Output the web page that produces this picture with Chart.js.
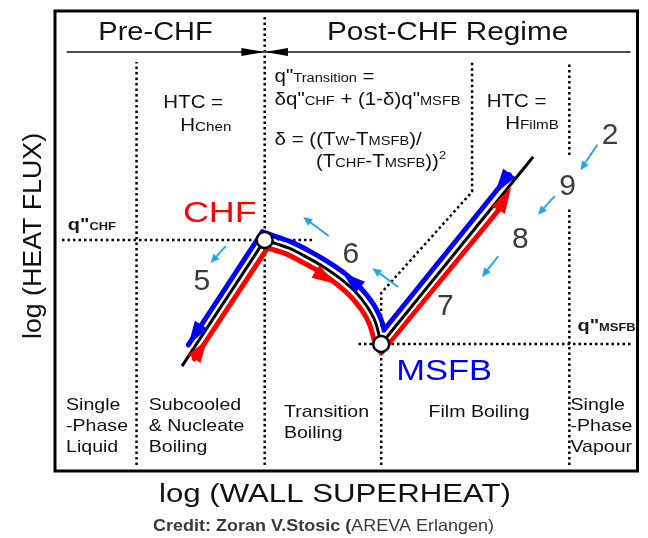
<!DOCTYPE html>
<html>
<head>
<meta charset="utf-8">
<script src="https://cdn.jsdelivr.net/npm/chart.js@4.4.1/dist/chart.umd.min.js"></script>
<style>
  html, body { margin: 0; padding: 0; background: #fff; }
  #wrap { width: 648px; height: 538px; }
</style>
</head>
<body>
<div id="wrap"><canvas id="c" width="648" height="538"></canvas></div>
<script>
// Boiling curve: log wall superheat (x) against log heat flux (y), both on a 0-100 scale
const boilX = [21.8, 36.0, 40.1, 43.2, 46.2, 49.1, 51.6, 53.6, 55.0, 56.0, 82.1];
const boilY = [22.8, 50.2, 48.5, 46.5, 44.3, 41.7, 38.9, 35.7, 32.4, 27.6, 68.3];
const CHF_I = 1, MSFB_I = 9;

// Heating path (red) and cooling path (blue) running beside the curve
const heatX = [23.9, 36.5, 39.7, 42.6, 45.6, 48.4, 50.8, 52.7, 54.0, 55.0, 56.0, 76.2];
const heatY = [24.4, 48.5, 47.2, 45.3, 43.2, 40.6, 37.9, 34.9, 31.9, 27.8, 25.7, 56.8];
const coolX = [22.9, 35.6, 40.5, 43.7, 46.8, 49.8, 52.4, 54.6, 56.0, 56.5, 78.0];
const coolY = [27.4, 52.0, 49.8, 47.8, 45.5, 42.9, 39.9, 36.4, 32.9, 30.7, 64.4];

// Arrowheads on the paths: [baseX, baseY, tipX, tipY]
const heatArrows = [[23.9, 24.4, 26.1, 28.5], [44.7, 43.4, 48.1, 40.7], [76.1, 56.7, 78.3, 61.7]];
const coolArrows = [[78.0, 64.8, 75.5, 60.2], [52.4, 39.9, 49.4, 43.1], [25.1, 31.8, 22.9, 27.4]];

// Small pointer arrows next to the step numbers: [fromX, fromY, toX, toY]
const pointerArrows = [
  [93.1, 70.9, 90.2, 65.4],
  [85.8, 59.8, 82.9, 55.7],
  [76.1, 46.7, 73.3, 42.2],
  [58.9, 40.0, 54.5, 44.1],
  [47.0, 51.1, 42.6, 55.2],
  [29.3, 48.9, 26.7, 45.2]
];

// Step numbers and where they sit
const stepLabels = ['2', '9', '8', '7', '6', '5'];
const stepX = [95.3, 88.0, 79.9, 67.0, 50.8, 25.2];
const stepY = [73.5, 62.4, 50.9, 36.3, 47.6, 41.7];

// Regime boundaries (dotted)
const regionX = [14.0, 36.0, 56.0, 88.3];
const filmBoundX = [56.0, 56.0, 71.6, 71.6];
const filmBoundY = [1.3, 38.7, 60.7, 88.9];
const chfFluxX = [1.2, 44.5];
const msfbFluxX = [52.1, 99.3];

// Pre-/Post-CHF header divider
const headerY = 91.1;
const headerX = [2.0, 98.8];
const headerArrows = [[32.0, 91.1, 36.0, 91.1], [40.0, 91.1, 36.0, 91.1]];

// Regime names along the bottom
const regimeNames = [
  ['Single', '-Phase', 'Liquid'],
  ['Subcooled', '& Nucleate', 'Boiling'],
  ['Transition', 'Boiling'],
  ['Film Boiling'],
  ['Single', '-Phase', 'Vapour']
];
const regimeX = [1.9, 16.1, 39.3, 72.8, 88.5];
const regimeTopY = [13.3, 13.3, 11.7, 11.7, 13.3];
const regimeAlign = ['left', 'left', 'left', 'center', 'left'];

const FONT = '"Liberation Sans", Arial, Helvetica, sans-serif';
const RED = '#ff0000', BLUE = '#0000ff', SKY = '#1ea6e6';
const CURVE_TENSION = 0.25;

function pts(xs, ys, from, to) {
  const out = [];
  for (let i = from; i <= to; i++) out.push({ x: xs[i], y: ys[i] });
  return out;
}
function path(data, color, width, order, extra) {
  return Object.assign({
    data, showLine: true, borderColor: color, backgroundColor: color,
    borderWidth: width, pointRadius: 0, pointHoverRadius: 0, fill: false,
    tension: 0, order, borderCapStyle: 'butt', borderJoinStyle: 'round'
  }, extra || {});
}
const dotted = { borderDash: [2.5, 3] };

const datasets = [
  // CHF and MSFB markers
  {
    data: [{ x: boilX[CHF_I], y: boilY[CHF_I] }, { x: boilX[MSFB_I], y: boilY[MSFB_I] }],
    showLine: false, pointRadius: 8, pointHoverRadius: 8,
    pointBackgroundColor: '#fff', pointBorderColor: '#000', pointBorderWidth: 2.5, order: 0
  },
  // boiling curve
  path(pts(boilX, boilY, 0, CHF_I), '#000', 3, 1),
  path(pts(boilX, boilY, CHF_I, MSFB_I), '#000', 3, 1, { tension: CURVE_TENSION }),
  path(pts(boilX, boilY, MSFB_I, 10), '#000', 3, 1),
  path(pts(boilX, boilY, 0, CHF_I), '#fff', 7, 2),
  path(pts(boilX, boilY, CHF_I, MSFB_I), '#fff', 7, 2, { tension: CURVE_TENSION }),
  path(pts(boilX, boilY, MSFB_I, 10), '#fff', 7, 2),
  // heating path
  path(pts(heatX, heatY, 0, 1), RED, 5, 3, { borderCapStyle: 'round' }),
  path(pts(heatX, heatY, 1, 10), RED, 5, 3, { tension: CURVE_TENSION, borderCapStyle: 'round' }),
  path(pts(heatX, heatY, 10, 11), RED, 5, 3, { borderCapStyle: 'round' }),
  // cooling path
  path(pts(coolX, coolY, 0, 1), BLUE, 5, 3, { borderCapStyle: 'round' }),
  path(pts(coolX, coolY, 1, 9), BLUE, 5, 3, { tension: CURVE_TENSION, borderCapStyle: 'round' }),
  path(pts(coolX, coolY, 9, 10), BLUE, 5, 3, { borderCapStyle: 'round' }),
  // header divider
  path([{ x: headerX[0], y: headerY }, { x: headerX[1], y: headerY }], '#4a4a4a', 2, 4),
  // dotted guides
  path([{ x: chfFluxX[0], y: boilY[CHF_I] }, { x: chfFluxX[1], y: boilY[CHF_I] }], '#000', 2.5, 5, dotted),
  path([{ x: msfbFluxX[0], y: boilY[MSFB_I] }, { x: msfbFluxX[1], y: boilY[MSFB_I] }], '#000', 2.5, 5, dotted),
  path([{ x: regionX[0], y: 1.3 }, { x: regionX[0], y: 88.9 }], '#000', 2.5, 5, dotted),
  path([{ x: regionX[1], y: 1.3 }, { x: regionX[1], y: 99.3 }], '#000', 2.5, 5, dotted),
  path(pts(filmBoundX, filmBoundY, 0, 3), '#000', 2.5, 5, dotted),
  path([{ x: regionX[3], y: 1.3 }, { x: regionX[3], y: 57.2 }], '#000', 2.5, 5, dotted),
  path([{ x: regionX[3], y: 68.7 }, { x: regionX[3], y: 88.9 }], '#000', 2.5, 5, dotted)
];

// text helpers: a label is a list of runs [text, size, bold, dy]
function drawRuns(ctx, x, y, runs, opt) {
  const o = Object.assign({ align: 'left', sx: 1.17, color: '#111', rotate: 0 }, opt || {});
  let w = 0;
  const widths = runs.map(r => {
    ctx.font = (r[2] ? 'bold ' : '') + r[1] + 'px ' + FONT;
    const m = ctx.measureText(r[0]).width;
    w += m;
    return m;
  });
  ctx.save();
  ctx.translate(x, y);
  if (o.rotate) ctx.rotate(o.rotate);
  ctx.scale(o.sx, 1);
  let ox = o.align === 'center' ? -w / 2 : 0;
  ctx.fillStyle = o.color;
  ctx.textBaseline = 'alphabetic';
  ctx.textAlign = 'left';
  runs.forEach((r, i) => {
    ctx.font = (r[2] ? 'bold ' : '') + r[1] + 'px ' + FONT;
    ctx.fillText(r[0], ox, r[3] || 0);
    ox += widths[i];
  });
  ctx.restore();
}

function triangle(ctx, bx, by, tx, ty, hw, color) {
  const dx = tx - bx, dy = ty - by, len = Math.hypot(dx, dy) || 1;
  const nx = -dy / len * hw, ny = dx / len * hw;
  ctx.beginPath();
  ctx.moveTo(tx, ty);
  ctx.lineTo(bx + nx, by + ny);
  ctx.lineTo(bx - nx, by - ny);
  ctx.closePath();
  ctx.fillStyle = color;
  ctx.fill();
}

const annotations = {
  id: 'annotations',
  afterDatasetsDraw(chart) {
    const { ctx, chartArea: a } = chart;
    const X = v => chart.scales.x.getPixelForValue(v);
    const Y = v => chart.scales.y.getPixelForValue(v);
    ctx.save();

    // frame
    ctx.strokeStyle = '#000';
    ctx.lineWidth = 3;
    ctx.strokeRect(a.left, a.top, a.right - a.left, a.bottom - a.top);

    // path arrowheads
    heatArrows.forEach(r => triangle(ctx, X(r[0]), Y(r[1]), X(r[2]), Y(r[3]), 7.5, RED));
    coolArrows.forEach(r => triangle(ctx, X(r[0]), Y(r[1]), X(r[2]), Y(r[3]), 7.5, BLUE));
    headerArrows.forEach(r => triangle(ctx, X(r[0]), Y(r[1]), X(r[2]), Y(r[3]), 4, '#000'));

    // pointer arrows
    pointerArrows.forEach(r => {
      const x0 = X(r[0]), y0 = Y(r[1]), x1 = X(r[2]), y1 = Y(r[3]);
      const len = Math.hypot(x1 - x0, y1 - y0);
      const ux = (x1 - x0) / len, uy = (y1 - y0) / len;
      ctx.beginPath();
      ctx.moveTo(x0, y0);
      ctx.lineTo(x1 - ux * 7, y1 - uy * 7);
      ctx.strokeStyle = SKY;
      ctx.lineWidth = 1.8;
      ctx.stroke();
      triangle(ctx, x1 - ux * 9, y1 - uy * 9, x1, y1, 4, SKY);
    });

    // step numbers
    stepLabels.forEach((t, i) => {
      drawRuns(ctx, X(stepX[i]), Y(stepY[i]) + 10.8, [[t, 30]], { align: 'center', sx: 1.0, color: '#3c3c3c' });
    });

    // header
    drawRuns(ctx, X(17.26), Y(93.7), [['Pre-CHF', 25]], { align: 'center', sx: 1.16 });
    drawRuns(ctx, X(67.4), Y(93.7), [['Post-CHF Regime', 25]], { align: 'center', sx: 1.19 });

    // heat transfer correlations
    const M = 17.5, S = 12.5;
    drawRuns(ctx, X(18.6), Y(78.9), [['HTC =', M]]);
    drawRuns(ctx, X(21.5), Y(73.9), [['H', M], ['Chen', 13]]);
    drawRuns(ctx, X(37.7), Y(84.6), [['q"', M], ['Transition', S], [' =', M]]);
    drawRuns(ctx, X(37.7), Y(79.6), [['δq"', M], ['CHF', S], [' + (1-δ)q"', M], ['MSFB', S]]);
    drawRuns(ctx, X(37.7), Y(70.9), [['δ = ((T', M], ['W', S], ['-T', M], ['MSFB', S], [')/', M]]);
    drawRuns(ctx, X(44.8), Y(66.1), [['(T', M], ['CHF', S], ['-T', M], ['MSFB', S], ['))', M], ['2', 11, false, -8]]);
    drawRuns(ctx, X(74.1), Y(79.1), [['HTC =', M]]);
    drawRuns(ctx, X(77.3), Y(74.3), [['H', M], ['FilmB', 13]]);

    // point names
    drawRuns(ctx, X(28.3), Y(54.1), [['CHF', 29]], { align: 'center', sx: 1.24, color: RED });
    drawRuns(ctx, X(66.8), Y(19.8), [['MSFB', 29]], { align: 'center', sx: 1.19, color: BLUE });

    // flux levels
    drawRuns(ctx, X(2.2), Y(52.4), [['q"', 17, true], ['CHF', 11, true]], { color: '#1a1a1a' });
    drawRuns(ctx, X(89.7), Y(30.4), [['q"', 17, true], ['MSFB', 11, true]], { color: '#1a1a1a' });

    // regime names
    regimeNames.forEach((lines, i) => {
      lines.forEach((t, j) => {
        drawRuns(ctx, X(regimeX[i]), Y(regimeTopY[i]) + j * 21.3, [[t, 17]], { align: regimeAlign[i], sx: 1.15 });
      });
    });

    // axis titles and credit
    drawRuns(ctx, 41, 236, [['log (HEAT FLUX)', 25]], { align: 'center', sx: 1.07, rotate: -Math.PI / 2 });
    drawRuns(ctx, 335, 502, [['log (WALL SUPERHEAT)', 26]], { align: 'center', sx: 1.2 });
    drawRuns(ctx, 323.5, 531, [['Credit: Zoran V.Stosic (', 16.5, true], ['AREVA Erlangen)', 16.5]], { align: 'center', sx: 1.09, color: '#3a3a3a' });

    ctx.restore();
  }
};

new Chart(document.getElementById('c'), {
  type: 'scatter',
  data: { datasets },
  options: {
    responsive: false,
    animation: false,
    devicePixelRatio: 1,
    events: [],
    layout: { padding: { left: 55, top: 11, right: 2, bottom: 67 } },
    scales: {
      x: { type: 'linear', min: 0, max: 100, display: false },
      y: { type: 'linear', min: 0, max: 100, display: false }
    },
    plugins: { legend: { display: false }, tooltip: { enabled: false } }
  },
  plugins: [annotations]
});
</script>
</body>
</html>
